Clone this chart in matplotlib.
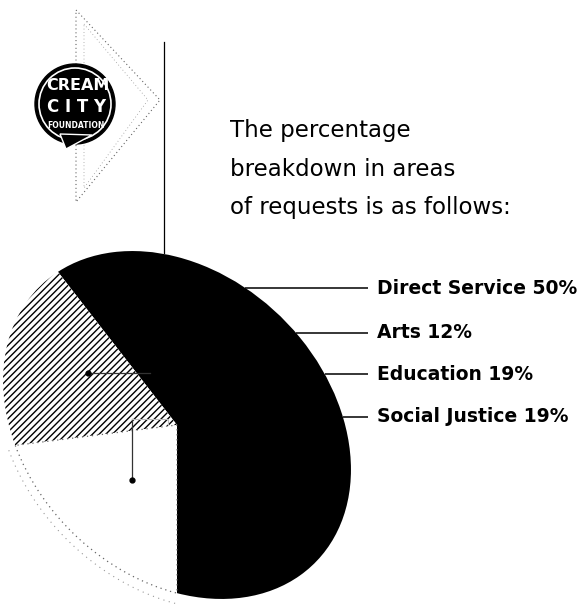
import numpy as np
import matplotlib
matplotlib.use("Agg")
import matplotlib.pyplot as plt
from matplotlib.patches import Circle, Polygon
from matplotlib.transforms import Affine2D

# data
areas = ["Direct Service", "Arts", "Education", "Social Justice"]
shares = [50, 12, 19, 19]
heading = ["The percentage", "breakdown in areas", "of requests is as follows:"]

W, H = 583, 613


def py(v):
    # pixel rows from the top -> data y
    return H - v


fig = plt.figure(figsize=(W / 100, H / 100), dpi=100)
ax = fig.add_axes([0, 0, 1, 1])

# the scanned pie is a slanted ellipse, so draw a unit pie and stretch it
cx, cy = 177, 425
pie_tf = Affine2D().scale(195, 150).rotate_deg(-45).translate(cx, py(cy))
m = np.linalg.inv(pie_tf.get_matrix()[:2, :2])
d = m @ np.array([0.0, -1.0])
start = np.degrees(np.arctan2(d[1], d[0]))

wedges, _ = ax.pie(shares, startangle=start, counterclock=True, radius=1, center=(0, 0),
                   colors=["black", "black", "white", "white"],
                   wedgeprops=dict(linewidth=0))
for w in wedges:
    w.set_transform(pie_tf + ax.transData)
wedges[2].set_edgecolor("black")
wedges[2].set_hatch("/////")
wedges[3].set_edgecolor("#666666")
wedges[3].set_linestyle((0, (1, 3)))
wedges[3].set_linewidth(0.9)

# faint second outline of the white slice (scan ghost)
a0 = np.radians(start + 360 * (1 - shares[3] / 100))
a1 = np.radians(start + 360)
tt = np.linspace(a0, a1, 100)
ghost = (Affine2D().scale(1.04) + pie_tf).transform(np.c_[np.cos(tt), np.sin(tt)])
ax.plot(ghost[:, 0], ghost[:, 1] - 4, color="#999999", lw=0.8, linestyle=(0, (1, 4)))

# leader lines from the right edge of the pie to the labels
t = np.linspace(-np.pi, np.pi, 721)
edge = pie_tf.transform(np.c_[np.cos(t), np.sin(t)])
right = edge[edge[:, 0] > cx]
right = right[np.argsort(right[:, 1])]
label_rows = [288, 333, 374, 417]
for name, pct, row in zip(areas, shares, label_rows):
    x0 = np.interp(py(row), right[:, 1], right[:, 0])
    ax.plot([x0, 368], [py(row), py(row)], color="black", lw=1.1, solid_capstyle="butt")
    ax.text(377, py(row), f"{name} {pct}%", fontsize=13.5, fontweight="bold",
            ha="left", va="center", color="black")

# leftover inner leaders
ax.plot([88, 150], [py(373), py(373)], color="#333333", lw=0.9)
ax.plot([88], [py(373)], "o", color="black", ms=3.5)
ax.plot([132, 132], [py(419), py(480)], color="#333333", lw=0.9)
ax.plot([132, 168, 168], [py(419), py(419), py(425)], color="#bbbbbb", lw=0.8)
ax.plot([132], [py(480)], "o", color="black", ms=3.5)

# heading text and the divider
for i, line in enumerate(heading):
    ax.text(230, py(137 + 38.5 * i), line, fontsize=16.5, ha="left", va="baseline", color="black")
ax.plot([164, 164], [py(42), py(253)], color="black", lw=0.9)

# logo
tri = Polygon([(76, py(10)), (160, py(100)), (76, py(202))], closed=True, fill=False,
              edgecolor="#666666", lw=0.8, linestyle=(0, (1, 2.5)))
ax.add_patch(tri)
tri2 = Polygon([(84, py(24)), (148, py(100)), (84, py(188))], closed=True, fill=False,
               edgecolor="#999999", lw=0.6, linestyle=(0, (1, 3)))
ax.add_patch(tri2)
ax.add_patch(Circle((75, py(104)), 40, facecolor="black", edgecolor="black"))
ax.add_patch(Circle((75, py(104)), 36, facecolor="none", edgecolor="white", lw=1.2))
ax.add_patch(Polygon([(60, py(134)), (66, py(149)), (92, py(135))], closed=True,
                     facecolor="black", edgecolor="white", lw=1.0))
ax.text(78, py(85), "CREAM", fontsize=11.5, fontweight="bold", color="white",
        ha="center", va="center")
ax.text(77, py(107), "C I T Y", fontsize=12, fontweight="bold", color="white",
        ha="center", va="center")
ax.text(76, py(126), "FOUNDATION", fontsize=5.5, fontweight="bold", color="white",
        ha="center", va="center")

ax.set_xlim(0, W)
ax.set_ylim(0, H)
ax.set_aspect("auto")
ax.axis("off")
fig.savefig("out.png", dpi=100, facecolor="white")
